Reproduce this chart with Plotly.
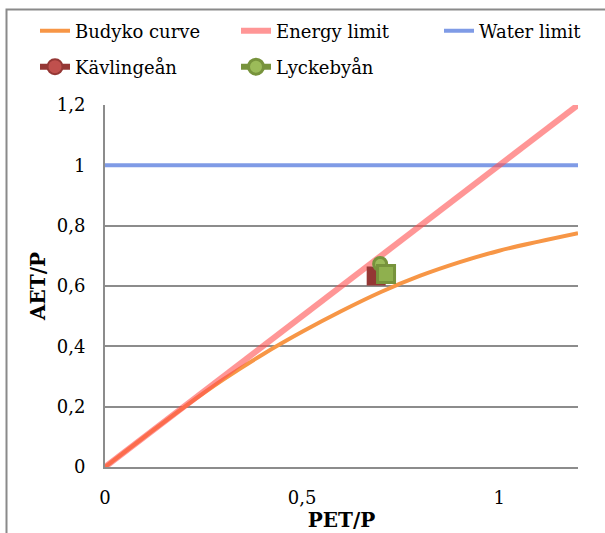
import plotly.graph_objects as go

# ---- data ----
budyko_x = [0, 0.1, 0.2, 0.3, 0.4, 0.5, 0.6, 0.7, 0.8, 0.9, 1.0, 1.1, 1.2]
budyko_y = [0, 0.1, 0.198, 0.29, 0.373, 0.448, 0.517, 0.58, 0.634, 0.679, 0.717, 0.747, 0.775]
energy_x = [0, 1.2]
energy_y = [0, 1.2]
water_x = [0, 1.2]
water_y = [1, 1]
kav_x = [0.70, 0.688]
kav_y = [0.667, 0.633]
lyc_x = [0.698, 0.713]
lyc_y = [0.673, 0.640]
x_ticks = [0, 0.5, 1]
y_ticks = [0, 0.2, 0.4, 0.6, 0.8, 1.0, 1.2]

FONT = "DejaVu Serif"
GRID = "#8c8c8c"

fig = go.Figure()
fig.add_trace(go.Scatter(x=water_x, y=water_y, mode="lines", name="Water limit",
                         line=dict(color="#7f9be6", width=4), legend="legend3"))
fig.add_trace(go.Scatter(x=budyko_x, y=budyko_y, mode="lines", name="Budyko curve",
                         line=dict(color="#f79646", width=4, shape="spline"),
                         legend="legend"))
fig.add_trace(go.Scatter(x=energy_x, y=energy_y, mode="lines", name="Energy limit",
                         line=dict(color="rgba(255,80,80,0.6)", width=6),
                         legend="legend2"))
fig.add_trace(go.Scatter(x=kav_x, y=kav_y, mode="lines+markers", name="Kävlingeån",
                         line=dict(color="#953735", width=6),
                         marker=dict(symbol=["circle", "square"], size=[13, 17], opacity=1,
                                     color=["#c0504d", "#943634"],
                                     line=dict(color="#953735", width=2)),
                         legend="legend4"))
fig.add_trace(go.Scatter(x=lyc_x, y=lyc_y, mode="lines+markers", name="Lyckebyån",
                         line=dict(color="#77933c", width=6),
                         marker=dict(symbol=["circle", "square"], size=[13, 17], opacity=1,
                                     color=["#9bbb59", "#8fb04e"],
                                     line=dict(color="#77933c", width=3)),
                         legend="legend5"))

L, R, T, B = 105, 27, 105, 66
W, H = 605, 533
pw, ph = W - L - R, H - T - B

fig.add_shape(type="rect", xref="paper", yref="paper",
              x0=(6.5 - L) / pw, x1=1.2, y0=-0.4, y1=(H - B - 9.5) / ph,
              line=dict(color="#8a8a8a", width=2), fillcolor="rgba(0,0,0,0)", layer="below")


def leg(xpx, ypx):
    return dict(orientation="h", xref="container", yref="container",
                xanchor="left", yanchor="middle", x=xpx / W, y=1 - ypx / H,
                font=dict(family=FONT, size=18, color="#000"), bgcolor="rgba(0,0,0,0)",
                borderwidth=0)


fig.update_layout(
    width=W, height=H,
    margin=dict(l=L, r=R, t=T, b=B),
    paper_bgcolor="white", plot_bgcolor="white",
    separators=", ",
    showlegend=True,
    legend=leg(35, 31),
    legend2=leg(236, 31),
    legend3=leg(439, 31),
    legend4=leg(35, 67),
    legend5=leg(236, 67),
    xaxis=dict(range=[0, 1.2], tickvals=x_ticks, showgrid=False, zeroline=False,
               showline=True, linecolor=GRID, linewidth=2, ticks="", automargin=False,
               ticklabelstandoff=13,
               tickfont=dict(family=FONT, size=18, color="#000"),
               title=dict(text="<b>PET/P</b>", font=dict(family=FONT, size=20, color="#000"),
                          standoff=2)),
    yaxis=dict(range=[0, 1.2], tickvals=y_ticks, showgrid=True, gridcolor=GRID, gridwidth=2,
               zeroline=False, showline=True, linecolor=GRID, linewidth=2, ticks="",
               automargin=False, ticklabelstandoff=14,
               tickfont=dict(family=FONT, size=18, color="#000"),
               title=dict(text="<b>AET/P</b>", font=dict(family=FONT, size=20, color="#000"),
                          standoff=6)),
)

fig.write_html("out.html", config={"displayModeBar": False},
               post_script="document.body.style.margin='0px';")
